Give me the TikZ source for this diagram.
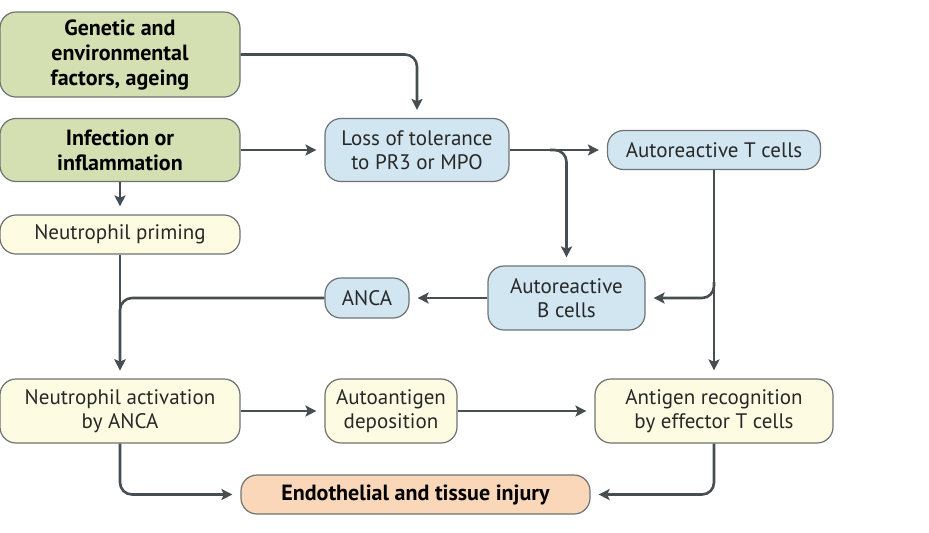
\documentclass[tikz,border=0pt]{standalone}
\usepackage{fontspec}
\setmainfont{PT Sans}
\usetikzlibrary{positioning,arrows.meta}

\definecolor{greenfill}{RGB}{213,224,178}
\definecolor{yellowfill}{RGB}{253,251,226}
\definecolor{bluefill}{RGB}{209,230,240}
\definecolor{peachfill}{RGB}{250,215,185}
\definecolor{boxline}{RGB}{110,115,115}
\definecolor{arrowline}{RGB}{70,78,82}
\definecolor{textgray}{RGB}{40,40,40}

\tikzset{
  box/.style={draw=boxline, line width=0.6pt, rounded corners=8pt, align=center,
    inner sep=2pt, text=textgray, font=\fontsize{10.5}{12}\selectfont},
  greenbox/.style={box, fill=greenfill, text=black, font=\bfseries\fontsize{11}{12.5}\selectfont},
  yellowbox/.style={box, fill=yellowfill},
  bluebox/.style={box, fill=bluefill},
  injurybox/.style={box, fill=peachfill, text=black, font=\bfseries\fontsize{11}{12.5}\selectfont},
  link/.style={->, draw=arrowline, line width=1.3pt, rounded corners=6pt, shorten >=4pt}
}

\begin{document}
\begin{tikzpicture}[x=0.5pt,y=-0.5pt,>={Stealth[length=5.5pt,width=5.5pt,inset=1.2pt]}]
\useasboundingbox (0,0) rectangle (929,532);
% sources
\node[greenbox, minimum width=120pt, minimum height=42.5pt] (genetic) at (120,54.5) {Genetic and\\environmental\\factors, ageing};
\node[greenbox, minimum width=120pt, minimum height=31.5pt] (infection) at (120,150) {Infection or\\inflammation};
\node[yellowbox, minimum width=120pt, minimum height=19.5pt] (priming) at (120,234.5) {Neutrophil priming};
% immune side
\node[bluebox, minimum width=92pt, minimum height=31.5pt] (loss) at (417,150) {Loss of tolerance\\to PR3 or MPO};
\node[bluebox, minimum width=106.5pt, minimum height=19.5pt] (tcells) at (714,150) {Autoreactive T cells};
\node[bluebox, minimum width=78.5pt, minimum height=32pt] (bcells) at (566.5,298) {Autoreactive\\B cells};
\node[bluebox, minimum width=42pt, minimum height=20pt] (anca) at (367,298) {ANCA};
% effector row
\node[yellowbox, minimum width=120pt, minimum height=32pt] (activation) at (120,411) {Neutrophil activation\\by ANCA};
\node[yellowbox, minimum width=66pt, minimum height=32pt] (deposition) at (391,411) {Autoantigen\\deposition};
\node[yellowbox, minimum width=119pt, minimum height=32pt] (recognition) at (714,411) {Antigen recognition\\by effector T cells};
\node[injurybox, minimum width=174.5pt, minimum height=19.5pt] (injury) at (415.5,494.5) {Endothelial and tissue injury};
% branch points
\coordinate (lsplit) at (550,150);
\coordinate (tsplit) at (714,282);

\draw[link] (genetic.east) -| (loss.north);
\draw[link] (infection) -- (loss);
\draw[link] (infection) -- (priming);
\draw[link] (loss) -- (tcells);
\draw[link] (lsplit) -| (bcells.north);
\draw[link] (tcells) -- (recognition);
\draw[link] (tsplit) |- (bcells.east);
\draw[link] (bcells) -- (anca);
\draw[link] (anca.west) -| (activation.north);
\draw[link] (priming) -- (activation);
\draw[link] (activation) -- (deposition);
\draw[link] (deposition) -- (recognition);
\draw[link] (activation.south) |- (injury.west);
\draw[link] (recognition.south) |- (injury.east);
\end{tikzpicture}
\end{document}
